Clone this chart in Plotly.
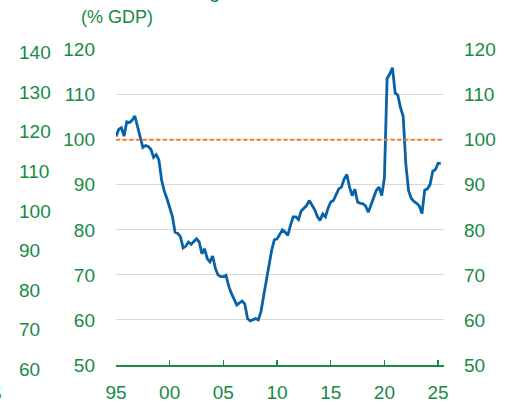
import plotly.graph_objects as go

# ---- data (quarterly, 1995Q1 .. 2025Q2) ----
start_year = 1995
debt_pct_gdp = [
    100.7, 102.3, 102.7, 100.8, 104.0, 103.8, 104.3, 105.3, 103.0, 100.6,
    98.3, 98.7, 98.5, 97.9, 96.1, 96.7, 95.5, 91.0, 88.6, 86.9,
    85.0, 83.0, 79.5, 79.2, 78.5, 76.0, 76.4, 77.3, 76.8, 77.4,
    78.0, 77.3, 74.7, 75.8, 73.6, 72.9, 74.2, 71.5, 70.0, 69.6,
    69.6, 69.9, 67.5, 65.9, 64.5, 63.3, 63.8, 64.2, 63.5, 60.3,
    59.8, 60.0, 60.3, 60.0, 61.8, 65.3, 68.8, 72.2, 75.5, 77.8,
    78.0, 79.0, 80.0, 79.5, 78.8, 81.0, 82.9, 82.9, 82.3, 84.2,
    84.9, 85.4, 86.5, 85.5, 84.5, 83.0, 82.1, 83.5, 82.9, 84.8,
    86.2, 86.5, 88.0, 89.1, 89.5, 91.3, 92.3, 89.5, 87.6, 89.0,
    86.2, 85.9, 85.8, 85.3, 83.9, 85.5, 86.8, 88.8, 89.5, 87.6,
    91.5, 113.6, 114.6, 116.0, 110.4, 109.9, 107.1, 105.2, 94.5, 88.7,
    87.0, 86.3, 85.9, 85.3, 83.6, 88.8, 89.1, 90.0, 93.0, 93.4,
    94.8, 94.7,
]
quarters = [start_year + i / 4 for i in range(len(debt_pct_gdp))]

threshold = 100
x_tick_years = [1995, 2000, 2005, 2010, 2015, 2020, 2025]
x_tick_labels = ["95", "00", "05", "10", "15", "20", "25"]
y_ticks = [50, 60, 70, 80, 90, 100, 110, 120]
neighbor_axis_labels = [140, 130, 120, 110, 100, 90, 80, 70, 60]
unit_label = "(% GDP)"

# ---- style ----
GREEN = "#178a44"
BLUE = "#0862a8"
ORANGE = "#f47a1f"
GRID = "#d9d9d9"
FONT = "Liberation Sans"
FS = 19

W, H = 512, 405
ML, MR, MT, MB = 116, 68, 49, 40
X_RANGE = [1995, 2025.55]
Y_RANGE = [50, 120.15]

fig = go.Figure()
fig.add_trace(go.Scatter(
    x=quarters, y=debt_pct_gdp, mode="lines",
    line=dict(color=BLUE, width=2.8), showlegend=False, hoverinfo="skip",
))
fig.add_trace(go.Scatter(
    x=[X_RANGE[0], X_RANGE[1]], y=[threshold, threshold], mode="lines",
    line=dict(color=ORANGE, width=2, dash="4px,2.7px"),
    showlegend=False, hoverinfo="skip", yaxis="y2",
))

axis_font = dict(family=FONT, size=FS, color=GREEN)

fig.update_layout(
    width=W, height=H,
    margin=dict(l=ML, r=MR, t=MT, b=MB, pad=0, autoexpand=False),
    paper_bgcolor="white", plot_bgcolor="white",
    font=dict(family=FONT, size=FS, color=GREEN),
    hovermode=False,
    xaxis=dict(
        range=X_RANGE, tickvals=x_tick_years, ticktext=x_tick_labels,
        showgrid=False, zeroline=False, automargin=False, fixedrange=True,
        showline=True, linecolor=GREEN, linewidth=1.5,
        ticks="inside", ticklen=5, tickwidth=1.5, tickcolor=GREEN,
        tickfont=axis_font, ticklabelstandoff=10,
    ),
    yaxis=dict(
        range=Y_RANGE, tickvals=y_ticks, showgrid=True, gridcolor=GRID, gridwidth=1,
        zeroline=False, showline=False, ticks="", tickfont=axis_font,
        ticklabelstandoff=20, automargin=False, fixedrange=True,
    ),
    yaxis2=dict(
        range=Y_RANGE, tickvals=y_ticks, overlaying="y", side="right",
        showgrid=False, zeroline=False, showline=False, ticks="",
        tickfont=axis_font, ticklabelstandoff=19, automargin=False, fixedrange=True,
    ),
)

plot_w = W - ML - MR
plot_h = H - MT - MB


def px_to_paper_x(px):
    return (px - ML) / plot_w


def px_to_paper_y(py):
    return (H - MB - py) / plot_h


annotations = []
# unit label
annotations.append(dict(
    text=unit_label, x=px_to_paper_x(79), y=px_to_paper_y(17),
    xref="paper", yref="paper", xanchor="left", yanchor="middle",
    showarrow=False, font=dict(family=FONT, size=18, color=GREEN),
))
# cut-off axis from neighbouring panel (left edge)
for v in neighbor_axis_labels:
    py = 52.7 + (140 - v) * 3.96
    annotations.append(dict(
        text=str(v), x=px_to_paper_x(17), y=px_to_paper_y(py),
        xref="paper", yref="paper", xanchor="left", yanchor="middle",
        showarrow=False, font=axis_font,
    ))
# cut-off x label of neighbouring panel
annotations.append(dict(
    text="5", x=px_to_paper_x(4), y=px_to_paper_y(393),
    xref="paper", yref="paper", xanchor="right", yanchor="middle",
    showarrow=False, font=axis_font,
))
# cut-off title descender at the top
annotations.append(dict(
    text="g", x=px_to_paper_x(214), y=px_to_paper_y(-9),
    xref="paper", yref="paper", xanchor="center", yanchor="middle",
    showarrow=False, font=dict(family=FONT, size=20, color=GREEN),
))
fig.update_layout(annotations=annotations)

fig.write_html(
    "out.html",
    config={"displayModeBar": False, "staticPlot": True},
    post_script="document.body.style.margin='0';document.body.style.overflow='hidden';",
)
